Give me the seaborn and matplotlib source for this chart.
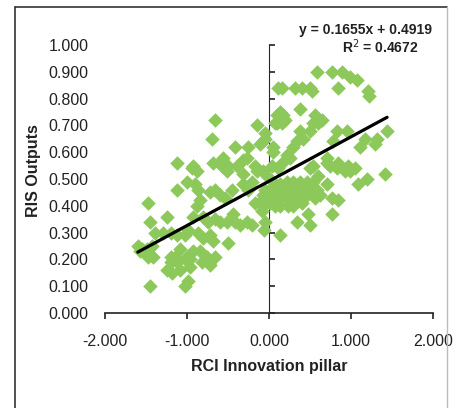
import matplotlib
matplotlib.use("Agg")
import matplotlib.pyplot as plt
import seaborn as sns
from matplotlib.lines import Line2D

# RCI innovation pillar vs RIS outputs
rci = [0.59, 0.77, 0.89, 0.99, 1.07, 0.16, 0.32, 0.40, 0.50, 0.52, 0.84, 1.21, 1.22, 0.38, 0.13, 0.17,
       0.10, 0.16, 0.20, 0.56, 0.60, 0.54, 0.65, 0.38, 0.50, 0.83, 0.95, 1.44, -0.05, -0.05, 0.41, 0.34,
       0.29, 0.78, 1.11, 1.17, 1.32, 1.29, 0.05, 0.22, 0.26, 0.71, 0.84, 0.96, 0.04, 0.11,
       -0.66, -0.15, -0.70, -0.07, 0.07, 0.11, 0.10, -0.41, -0.26, -0.27, -0.32, -0.56, -0.57, -0.11,
       0.05, -1.12, -0.93, -0.68, -0.50, -0.39, -0.17,
       -0.94, -0.88, -0.57, -0.51, -0.32, -0.15, -1.00, -0.90, -0.87, -1.12, -0.72, -0.66, -0.60, -0.54,
       -0.45, -0.32, -0.26, -0.21, -0.05, 0.05, 0.01, -1.47, -0.84, -0.88, -0.17, -0.07, -1.45, -1.24,
       -0.93, -0.80, -0.74, -0.66, -0.60, -0.51, -0.41, -0.35, -0.27, -0.21, -0.44, -1.39, -1.29, -1.20,
       -1.12, -1.02, -0.99, -0.87, -0.80, -0.72, -0.68, -1.60, -1.55, -1.49, -1.43, -1.57, -1.47, -1.41,
       -1.20, -1.15, -1.09, -1.00, -0.93, -0.84, -0.76, -0.66, -0.50, -1.20, -1.12, -1.02, -0.96, -0.82,
       -0.72, -1.24, -1.18, -1.09, -0.96, -1.45, -1.02, -0.99,
       0.16, 0.54, 0.50, 0.71, 0.74, 0.83, 0.93, 0.99, 1.05, 1.20, 1.41, 1.09, -0.07, -0.02, 0.05, 0.13,
       0.22, 0.29, 0.38, 0.46, 0.54, 0.60, 0.71, 0.01, 0.10, 0.17, 0.26, 0.34, 0.41, 0.50, 0.59, 0.05,
       0.13, 0.22, 0.29, 0.38, 0.46, 0.56, 0.62, 0.77, 0.84, -0.07, -0.09, 0.07, 0.13, 0.23, 0.29, 0.40,
       -0.08, 0.48, 0.77, -0.05, 0.34, 0.50, -0.06, 0.13]
ris = [0.90, 0.90, 0.90, 0.88, 0.87, 0.84, 0.84, 0.84, 0.84, 0.83, 0.84, 0.83, 0.81, 0.76, 0.75, 0.74,
       0.71, 0.71, 0.72, 0.74, 0.71, 0.71, 0.72, 0.68, 0.68, 0.68, 0.68, 0.68, 0.67, 0.65, 0.65, 0.64,
       0.62, 0.64, 0.62, 0.65, 0.65, 0.63, 0.62, 0.59, 0.58, 0.58, 0.56, 0.55, 0.55, 0.54,
       0.72, 0.70, 0.65, 0.64, 0.71, 0.84, 0.74, 0.62, 0.62, 0.58, 0.57, 0.58, 0.57, 0.63,
       0.60, 0.56, 0.55, 0.56, 0.55, 0.55, 0.55,
       0.54, 0.53, 0.55, 0.53, 0.52, 0.53, 0.49, 0.48, 0.46, 0.46, 0.45, 0.46, 0.44, 0.43,
       0.46, 0.48, 0.46, 0.49, 0.46, 0.44, 0.41, 0.41, 0.42, 0.40, 0.41, 0.40, 0.34, 0.36,
       0.36, 0.36, 0.34, 0.35, 0.34, 0.34, 0.34, 0.33, 0.34, 0.33, 0.37, 0.30, 0.30, 0.30,
       0.29, 0.29, 0.31, 0.30, 0.28, 0.29, 0.27, 0.25, 0.24, 0.24, 0.25, 0.23, 0.21, 0.21,
       0.21, 0.21, 0.24, 0.21, 0.23, 0.23, 0.21, 0.21, 0.26, 0.19, 0.19, 0.20, 0.20, 0.19,
       0.18, 0.16, 0.15, 0.16, 0.17, 0.10, 0.10, 0.12,
       0.56, 0.55, 0.54, 0.56, 0.55, 0.54, 0.53, 0.53, 0.54, 0.50, 0.52, 0.48, 0.53, 0.51, 0.49, 0.48,
       0.49, 0.49, 0.49, 0.49, 0.49, 0.51, 0.48, 0.46, 0.45, 0.46, 0.46, 0.45, 0.46, 0.45, 0.46, 0.43,
       0.43, 0.43, 0.43, 0.43, 0.44, 0.43, 0.44, 0.43, 0.42, 0.44, 0.42, 0.40, 0.40, 0.40, 0.40, 0.41,
       0.38, 0.37, 0.37, 0.34, 0.34, 0.33, 0.31, 0.29]

# trendline from the chart
slope = 0.1655
intercept = 0.4919
r2 = 0.4672

x_ticks = [-2, -1, 0, 1, 2]
y_ticks = [0.0, 0.1, 0.2, 0.3, 0.4, 0.5, 0.6, 0.7, 0.8, 0.9, 1.0]

sns.set_style("white")
plt.rcParams['font.family'] = ['Liberation Sans', 'DejaVu Sans']

fig = plt.figure(figsize=(4.59, 4.08), dpi=100)
# plot area: x 105..433 px, y 45..313 px (from top)
ax = fig.add_axes([105/459, 95/408, 328/459, 268/408])

sns.scatterplot(x=rci, y=ris, marker='D', color='#8cc85a', s=55, linewidth=0, ax=ax, zorder=2)

line_x = [min(rci), max(rci)]
line_y = [slope * v + intercept for v in line_x]
sns.lineplot(x=line_x, y=line_y, color='black', linewidth=2.3, ax=ax, zorder=3)

ax.set_xlim(-2, 2)
ax.set_ylim(0, 1)
ax.set_xticks(x_ticks)
ax.set_xticklabels(['%.3f' % v for v in x_ticks])
ax.set_yticks(y_ticks)
ax.set_yticklabels(['%.3f' % v for v in y_ticks])

for s in ['top', 'right', 'left']:
    ax.spines[s].set_visible(False)
ax.spines['bottom'].set_color('#222222')
ax.spines['bottom'].set_linewidth(1.2)
ax.tick_params(axis='x', direction='out', length=4, width=1.2, color='#222222',
               labelsize=11.5, labelcolor='#222222', pad=11, bottom=True)
ax.tick_params(axis='y', length=0, labelsize=11.5, labelcolor='#222222', pad=12)

# vertical axis crossing at x = 0
sec = ax.secondary_yaxis(0.5)
sec.set_yticks(y_ticks)
sec.set_yticklabels([])
sec.spines['left'].set_color('#222222')
sec.spines['left'].set_linewidth(1.2)
sec.tick_params(direction='out', length=4, width=1.2, color='#222222')

ax.set_xlabel('RCI Innovation pillar', fontsize=11.5, fontweight='bold', color='#222222')
ax.set_ylabel('RIS Outputs', fontsize=11.5, fontweight='bold', color='#222222')
ax.xaxis.set_label_coords(0.5, -0.17)
ax.yaxis.set_label_coords(-0.195, 0.53)

ax.text(0.795, 1.056, 'y = %.4fx + %.4f' % (slope, intercept), transform=ax.transAxes,
        ha='center', va='center', fontsize=10, fontweight='bold', color='#222222')
ax.text(0.84, 0.993, 'R$^2$ = %.4f' % r2, transform=ax.transAxes,
        ha='center', va='center', fontsize=10, fontweight='bold', color='#222222')

# outer frame
fig.add_artist(Line2D([15/459, 15/459], [0, 1 - 7/408], transform=fig.transFigure, color='#333333', lw=1.2))
fig.add_artist(Line2D([15/459, 447/459], [1 - 7/408, 1 - 7/408], transform=fig.transFigure, color='#333333', lw=1.2))
fig.add_artist(Line2D([447/459, 447/459], [0, 1 - 7/408], transform=fig.transFigure, color='#bbbbbb', lw=1.0))

fig.savefig('out.png', dpi=100)
